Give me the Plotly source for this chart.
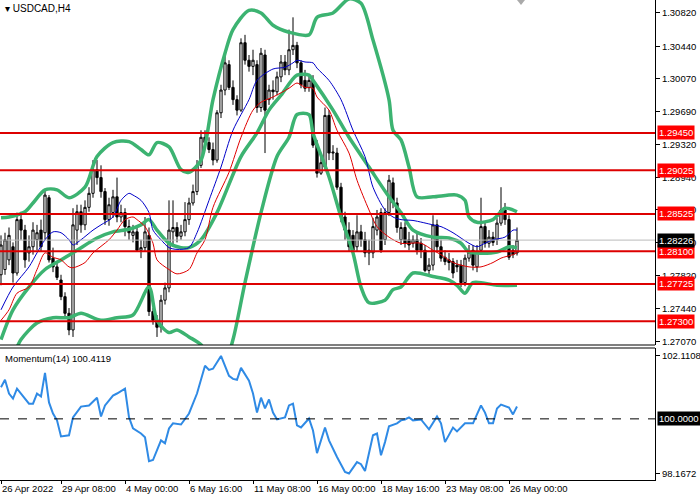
import plotly.graph_objects as go
import pandas as pd

# H4 bar times (26 Apr 20:00 .. 26 May 08:00, weekdays only)
days = pd.bdate_range("2022-04-26", "2022-05-26")
bar_times = [(d + pd.Timedelta(hours=h)).strftime("%Y.%m.%d %H:%M")
             for d in days for h in range(0, 24, 4)][5:135]

open_ = [1.2783, 1.2789, 1.2800, 1.2815, 1.2785, 1.2846, 1.2834, 1.2808, 1.2815, 1.2823,
         1.2834, 1.2831, 1.2871, 1.2802, 1.2792, 1.2777, 1.2758, 1.2739, 1.2720, 1.2834,
         1.2855, 1.2840, 1.2860, 1.2876, 1.2903, 1.2894, 1.2878, 1.2846, 1.2854, 1.2872,
         1.2849, 1.2854, 1.2838, 1.2828, 1.2832, 1.2811, 1.2814, 1.2828, 1.2741, 1.2731,
         1.2723, 1.2754, 1.2768, 1.2832, 1.2837, 1.2827, 1.2832, 1.2846, 1.2865, 1.2878,
         1.2908, 1.2940, 1.2934, 1.2926, 1.2914, 1.2968, 1.2994, 1.3023, 1.2997, 1.2983,
         1.2971, 1.3048, 1.3028, 1.3021, 1.3023, 1.2974, 1.3034, 1.2983, 1.2994, 1.2992,
         1.3009, 1.3026, 1.3017, 1.3040, 1.3045, 1.3025, 1.3005, 1.2997, 1.3005, 1.2931,
         1.2899, 1.2906, 1.2965, 1.2922, 1.2922, 1.2883, 1.2849, 1.2834, 1.2828, 1.2815,
         1.2832, 1.2823, 1.2808, 1.2808, 1.2834, 1.2854, 1.2823, 1.2854, 1.2888, 1.2865,
         1.2823, 1.2837, 1.2823, 1.2819, 1.2823, 1.2819, 1.2811, 1.2788, 1.2794, 1.2840,
         1.2815, 1.2803, 1.2800, 1.2798, 1.2794, 1.2794, 1.2774, 1.2802, 1.2811, 1.2792,
         1.2811, 1.2838, 1.2819, 1.2826, 1.2823, 1.2842, 1.2857, 1.2846, 1.2811, 1.2808]
high = [1.2828, 1.2831, 1.2837, 1.2820, 1.2854, 1.2855, 1.2840, 1.2828, 1.2843, 1.2840,
        1.2846, 1.2880, 1.2874, 1.2814, 1.2798, 1.2783, 1.2763, 1.2745, 1.2859, 1.2863,
        1.2863, 1.2868, 1.2883, 1.2914, 1.2914, 1.2908, 1.2882, 1.2871, 1.2880, 1.2894,
        1.2863, 1.2859, 1.2846, 1.2840, 1.2839, 1.2823, 1.2849, 1.2837, 1.2745, 1.2737,
        1.2760, 1.2774, 1.2868, 1.2868, 1.2843, 1.2840, 1.2866, 1.2871, 1.2886, 1.2914,
        1.2948, 1.2948, 1.2940, 1.2934, 1.2971, 1.3000, 1.3034, 1.3028, 1.3005, 1.2988,
        1.3053, 1.3057, 1.3034, 1.3040, 1.3028, 1.3042, 1.3040, 1.3000, 1.3005, 1.3015,
        1.3034, 1.3034, 1.3063, 1.3077, 1.3049, 1.3028, 1.3017, 1.3011, 1.3011, 1.2937,
        1.2920, 1.2974, 1.2971, 1.2931, 1.2928, 1.2888, 1.2855, 1.2843, 1.2834, 1.2851,
        1.2840, 1.2832, 1.2823, 1.2848, 1.2857, 1.2859, 1.2859, 1.2897, 1.2894, 1.2871,
        1.2843, 1.2843, 1.2832, 1.2828, 1.2831, 1.2825, 1.2817, 1.2802, 1.2851, 1.2846,
        1.2823, 1.2811, 1.2808, 1.2802, 1.2800, 1.2800, 1.2806, 1.2817, 1.2817, 1.2817,
        1.2871, 1.2843, 1.2834, 1.2832, 1.2848, 1.2883, 1.2865, 1.2851, 1.2817, 1.2837]
low = [1.2771, 1.2783, 1.2794, 1.2774, 1.2782, 1.2823, 1.2791, 1.2798, 1.2806, 1.2811,
       1.2809, 1.2823, 1.2797, 1.2786, 1.2777, 1.2754, 1.2734, 1.2714, 1.2712, 1.2817,
       1.2831, 1.2834, 1.2855, 1.2871, 1.2886, 1.2871, 1.2840, 1.2839, 1.2848, 1.2843,
       1.2843, 1.2827, 1.2823, 1.2820, 1.2809, 1.2802, 1.2809, 1.2736, 1.2726, 1.2712,
       1.2717, 1.2749, 1.2763, 1.2817, 1.2820, 1.2823, 1.2827, 1.2840, 1.2862, 1.2874,
       1.2905, 1.2928, 1.2922, 1.2908, 1.2911, 1.2962, 1.2988, 1.2994, 1.2977, 1.2965,
       1.2969, 1.3023, 1.3015, 1.3011, 1.2968, 1.2969, 1.2922, 1.2977, 1.2983, 1.2988,
       1.3003, 1.3011, 1.3011, 1.3034, 1.3019, 1.2996, 1.2992, 1.2992, 1.2928, 1.2894,
       1.2897, 1.2903, 1.2914, 1.2914, 1.2880, 1.2843, 1.2823, 1.2809, 1.2806, 1.2809,
       1.2815, 1.2803, 1.2794, 1.2802, 1.2828, 1.2808, 1.2817, 1.2850, 1.2859, 1.2831,
       1.2817, 1.2814, 1.2811, 1.2814, 1.2806, 1.2802, 1.2786, 1.2783, 1.2788, 1.2809,
       1.2798, 1.2794, 1.2788, 1.2779, 1.2786, 1.2769, 1.2770, 1.2798, 1.2788, 1.2786,
       1.2806, 1.2814, 1.2814, 1.2816, 1.2817, 1.2839, 1.2840, 1.2800, 1.2802, 1.2805]
close = [1.2817, 1.2823, 1.2828, 1.2785, 1.2846, 1.2834, 1.2800, 1.2815, 1.2834, 1.2831,
         1.2815, 1.2874, 1.2800, 1.2792, 1.2780, 1.2758, 1.2739, 1.2720, 1.2840, 1.2855,
         1.2840, 1.2860, 1.2876, 1.2903, 1.2894, 1.2878, 1.2846, 1.2863, 1.2872, 1.2849,
         1.2854, 1.2838, 1.2831, 1.2832, 1.2811, 1.2814, 1.2832, 1.2741, 1.2731, 1.2723,
         1.2754, 1.2768, 1.2834, 1.2837, 1.2827, 1.2832, 1.2846, 1.2865, 1.2878, 1.2908,
         1.2940, 1.2934, 1.2926, 1.2914, 1.2968, 1.2994, 1.3025, 1.2997, 1.2983, 1.2971,
         1.3048, 1.3028, 1.3021, 1.3028, 1.2974, 1.3036, 1.2971, 1.2994, 1.2992, 1.3009,
         1.3026, 1.3017, 1.3040, 1.3045, 1.3025, 1.3000, 1.2996, 1.3005, 1.2931, 1.2899,
         1.2911, 1.2965, 1.2922, 1.2923, 1.2883, 1.2849, 1.2834, 1.2815, 1.2811, 1.2832,
         1.2823, 1.2808, 1.2811, 1.2838, 1.2849, 1.2811, 1.2854, 1.2891, 1.2865, 1.2837,
         1.2837, 1.2819, 1.2817, 1.2823, 1.2811, 1.2811, 1.2788, 1.2794, 1.2840, 1.2815,
         1.2802, 1.2798, 1.2797, 1.2785, 1.2792, 1.2774, 1.2802, 1.2809, 1.2794, 1.2809,
         1.2838, 1.2819, 1.2826, 1.2820, 1.2842, 1.2857, 1.2846, 1.2803, 1.2806, 1.28226]

# Bollinger bands and moving averages (bar index, value)
bb_up_idx = [0, 2, 6, 8, 11, 14, 17, 21, 24, 28, 32, 35, 37, 39, 42, 45, 47, 50, 53, 56, 58, 62,
             65, 68, 72, 77, 79, 83, 87, 90, 93, 97, 98, 100, 102, 104, 108, 114, 116, 117, 119,
             123, 126, 129]
bb_up_val = [1.2848, 1.2849, 1.2855, 1.2865, 1.2880, 1.2880, 1.2871, 1.2883, 1.2918, 1.2934,
             1.2935, 1.2926, 1.2920, 1.2934, 1.2929, 1.2903, 1.2900, 1.2914, 1.2983, 1.3036,
             1.3063, 1.3085, 1.3082, 1.3068, 1.3060, 1.3057, 1.3077, 1.3082, 1.3098, 1.3093,
             1.3051, 1.2983, 1.2948, 1.2937, 1.2906, 1.2872, 1.2872, 1.2874, 1.2868, 1.2849,
             1.2843, 1.2846, 1.2859, 1.2855]
bb_mid_idx = [0, 3, 7, 11, 15, 19, 24, 28, 32, 35, 37, 39, 42, 45, 47, 50, 54, 60, 64, 67, 70,
              74, 77, 78, 83, 87, 92, 97, 100, 103, 108, 112, 115, 117, 124, 127, 129]
bb_mid_val = [1.2709, 1.2743, 1.2769, 1.2789, 1.2800, 1.2811, 1.2825, 1.2832, 1.2835, 1.2840,
              1.2846, 1.2834, 1.2819, 1.2814, 1.2814, 1.2823, 1.2854, 1.2918, 1.2945, 1.2971,
              1.2988, 1.3011, 1.3011, 1.3005, 1.2971, 1.2940, 1.2906, 1.2872, 1.2854, 1.2834,
              1.2826, 1.2825, 1.2819, 1.2809, 1.2809, 1.2815, 1.2814]
bb_low_idx = [0, 3, 5, 9, 13, 17, 20, 25, 29, 33, 37, 39, 42, 44, 47, 50, 53, 56, 58, 61, 65,
              69, 72, 74, 77, 78, 82, 85, 88, 90, 92, 96, 98, 100, 103, 108, 112, 114, 116, 118,
              124, 129]
bb_low_val = [1.2674, 1.2691, 1.2709, 1.2728, 1.2734, 1.2734, 1.2739, 1.2731, 1.2734, 1.2737,
              1.2769, 1.2731, 1.2717, 1.2720, 1.2712, 1.2703, 1.2680, 1.2683, 1.2709, 1.2774,
              1.2854, 1.2918, 1.2940, 1.2966, 1.2966, 1.2945, 1.2895, 1.2849, 1.2808, 1.2769,
              1.2751, 1.2754, 1.2766, 1.2769, 1.2785, 1.2781, 1.2777, 1.2771, 1.2762, 1.2774,
              1.2771, 1.2771]
ma_fast_idx = [0, 3, 7, 9, 11, 13, 15, 17, 18, 20, 23, 25, 28, 30, 32, 33, 35, 37, 38, 40, 42,
               44, 47, 49, 52, 55, 58, 62, 64, 68, 71, 73, 74, 76, 78, 79, 82, 85, 88, 91, 93,
               96, 98, 100, 103, 108, 110, 113, 117, 119, 121, 123, 126, 128, 129]
ma_fast_val = [1.2743, 1.2769, 1.2792, 1.2808, 1.2823, 1.2832, 1.2831, 1.2823, 1.2817, 1.2823,
               1.2834, 1.2840, 1.2849, 1.2868, 1.2876, 1.2874, 1.2868, 1.2854, 1.2834, 1.2823,
               1.2814, 1.2812, 1.2814, 1.2831, 1.2868, 1.2906, 1.2948, 1.2983, 1.3005, 1.3018,
               1.3020, 1.3025, 1.3028, 1.3026, 1.3025, 1.3019, 1.3005, 1.2983, 1.2948, 1.2918,
               1.2883, 1.2857, 1.2849, 1.2846, 1.2845, 1.2840, 1.2838, 1.2831, 1.2819, 1.2815,
               1.2819, 1.2823, 1.2826, 1.2834, 1.2834]
ma_slow_idx = [0, 2, 4, 7, 9, 11, 13, 15, 17, 18, 21, 23, 27, 29, 31, 33, 34, 36, 38, 39, 42,
               44, 47, 49, 51, 53, 57, 60, 63, 65, 68, 72, 74, 76, 78, 79, 82, 84, 87, 89, 92,
               94, 97, 100, 105, 108, 110, 113, 117, 120, 123, 125, 128, 129]
ma_slow_val = [1.2731, 1.2743, 1.2762, 1.2769, 1.2789, 1.2808, 1.2803, 1.2800, 1.2792, 1.2791,
               1.2797, 1.2808, 1.2823, 1.2834, 1.2846, 1.2849, 1.2846, 1.2838, 1.2819, 1.2800,
               1.2789, 1.2784, 1.2789, 1.2808, 1.2823, 1.2860, 1.2900, 1.2940, 1.2971, 1.2980,
               1.2986, 1.2996, 1.3002, 1.2997, 1.2996, 1.2986, 1.2971, 1.2948, 1.2922, 1.2891,
               1.2857, 1.2838, 1.2826, 1.2819, 1.2819, 1.2811, 1.2806, 1.2797, 1.2792, 1.2792,
               1.2797, 1.2802, 1.2806, 1.2808]

# Momentum(14)
mom_idx = [0, 1, 2, 3, 4, 5, 7, 8, 9, 10, 11, 12, 13, 14, 15, 17, 18, 20, 22, 24, 25, 26, 28,
           29, 31, 32, 33, 35, 36, 37, 38, 40, 41, 42, 43, 45, 47, 49, 51, 52, 53, 55, 56, 57,
           58, 59, 60, 62, 63, 64, 65, 66, 67, 68, 69, 71, 72, 73, 74, 75, 77, 78, 79, 80, 81,
           82, 84, 86, 87, 89, 90, 91, 93, 94, 95, 96, 97, 99, 100, 101, 102, 103, 105, 107,
           109, 110, 111, 113, 114, 116, 118, 120, 121, 122, 123, 124, 125, 127, 128, 129]
mom_val = [101.06, 101.31, 100.85, 100.68, 101.01, 100.85, 100.51, 100.51, 100.85, 100.75,
           101.54, 100.55, 100.18, 99.95, 99.41, 99.45, 100.05, 100.41, 100.45, 100.71, 100.08,
           100.45, 100.78, 100.85, 101.01, 100.05, 99.68, 99.51, 99.38, 98.58, 98.62, 99.28,
           99.18, 99.68, 99.85, 99.81, 100.18, 100.85, 101.78, 101.64, 101.68, 102.1108, 101.78,
           101.44, 101.34, 101.31, 101.71, 101.28, 100.85, 100.21, 100.71, 100.35, 100.65,
           100.21, 99.98, 100.05, 100.45, 100.51, 99.78, 99.71, 100.01, 99.61, 98.85, 99.28,
           99.71, 99.28, 98.72, 98.22, 98.1672, 98.55, 98.48, 98.25, 99.45, 99.51, 98.78, 99.22,
           99.75, 99.85, 99.95, 99.98, 100.05, 99.95, 99.98, 99.65, 100.08, 99.85, 99.22, 99.71,
           99.58, 99.85, 99.85, 100.45, 100.21, 99.85, 99.85, 100.35, 100.48, 100.38, 100.15,
           100.4119]

levels = [1.29450, 1.29025, 1.28525, 1.28100, 1.27725, 1.27300]
bid = 1.28226
price_ticks = [1.30820, 1.30440, 1.30070, 1.29690, 1.29320, 1.28940, 1.28570, 1.28200,
               1.27820, 1.27440, 1.27070]
mom_ticks = [102.1108, 98.1672]
tick_idx = [0, 15, 31, 47, 63, 79, 95, 111, 127]
tick_text = ["26 Apr 2022", "29 Apr 08:00", "4 May 00:00", "6 May 16:00", "11 May 08:00",
             "16 May 00:00", "18 May 16:00", "23 May 08:00", "26 May 00:00"]

FONT = "Liberation Sans"
XR = 655 / 700
GREEN = "#3CB371"


def at(idx):
    return [bar_times[i] for i in idx]


fig = go.Figure()
fig.add_trace(go.Candlestick(
    x=bar_times, open=open_, high=high, low=low, close=close,
    increasing=dict(line=dict(color="black", width=1), fillcolor="white"),
    decreasing=dict(line=dict(color="black", width=1), fillcolor="black"),
    whiskerwidth=0, xaxis="x", yaxis="y", hoverinfo="skip"))
for idx, val in [(bb_up_idx, bb_up_val), (bb_mid_idx, bb_mid_val), (bb_low_idx, bb_low_val)]:
    fig.add_trace(go.Scatter(x=at(idx), y=val, mode="lines", xaxis="x", yaxis="y",
                             line=dict(color=GREEN, width=3.5, shape="spline", smoothing=0.8)))
fig.add_trace(go.Scatter(x=at(ma_fast_idx), y=ma_fast_val, mode="lines", xaxis="x", yaxis="y",
                         line=dict(color="#0000C8", width=1, shape="spline", smoothing=0.8)))
fig.add_trace(go.Scatter(x=at(ma_slow_idx), y=ma_slow_val, mode="lines", xaxis="x", yaxis="y",
                         line=dict(color="#E00000", width=1, shape="spline", smoothing=0.8)))
fig.add_trace(go.Scatter(x=at(mom_idx), y=mom_val, mode="lines", xaxis="x2", yaxis="y2",
                         line=dict(color="#2F8AE5", width=2)))

shapes = []
shapes.append(dict(type="line", xref="paper", x0=0, x1=XR, yref="y", y0=bid, y1=bid,
                   line=dict(color="#BBBBBB", width=1)))
for lv in levels:
    shapes.append(dict(type="line", xref="paper", x0=0, x1=XR, yref="y", y0=lv, y1=lv,
                       line=dict(color="#DD0000", width=2)))
shapes.append(dict(type="line", xref="paper", x0=0, x1=XR, yref="y2", y0=100, y1=100,
                   line=dict(color="black", width=1, dash="dash")))
for yp in [1 - 345 / 500, 1 - 348 / 500]:
    shapes.append(dict(type="line", xref="paper", x0=0, x1=XR, yref="paper", y0=yp, y1=yp,
                       line=dict(color="black", width=1)))
# chart-shift marker at the top edge
shapes.append(dict(type="path", xref="paper", yref="paper",
                   path="M %.4f 1 L %.4f 1 L %.4f %.4f Z" % (517 / 700, 525 / 700, 521 / 700,
                                                             1 - 5 / 500),
                   fillcolor="#AAAAAA", line=dict(width=0)))

ann = []
for lv in levels:
    ann.append(dict(xref="paper", x=657 / 700, xanchor="left", yref="y", y=lv, text="%.5f" % lv,
                    showarrow=False, bgcolor="#FF0000", borderpad=1,
                    font=dict(family=FONT, size=9.5, color="white")))
ann.append(dict(xref="paper", x=657 / 700, xanchor="left", yref="y", y=bid, text="%.5f" % bid,
                showarrow=False, bgcolor="black", borderpad=1,
                font=dict(family=FONT, size=9.5, color="white")))
ann.append(dict(xref="paper", x=657 / 700, xanchor="left", yref="y2", y=100, text="100.0000",
                showarrow=False, bgcolor="black", borderpad=1,
                font=dict(family=FONT, size=9.5, color="white")))
ann.append(dict(xref="paper", x=0.004, xanchor="left", yref="paper", y=1 - 8 / 500,
                yanchor="middle", text="▾ USDCAD,H4", showarrow=False,
                font=dict(family=FONT, size=10, color="black")))
ann.append(dict(xref="paper", x=0.004, xanchor="left", yref="paper", y=1 - 358 / 500,
                yanchor="middle", text="Momentum(14) %.4f" % mom_val[-1], showarrow=False,
                font=dict(family=FONT, size=9.5, color="black")))

xcommon = dict(type="category", categoryorder="array", categoryarray=bar_times,
               range=[-0.25, 163.5], domain=[0, XR], showgrid=False, zeroline=False,
               fixedrange=True)
fig.update_layout(
    width=700, height=500, margin=dict(l=0, r=0, t=0, b=0),
    paper_bgcolor="white", plot_bgcolor="white", showlegend=False, boxgap=0.2,
    font=dict(family=FONT, size=9.5, color="black"),
    xaxis=dict(anchor="y", showticklabels=False, rangeslider=dict(visible=False), **xcommon),
    yaxis=dict(domain=[1 - 345 / 500, 1], range=[1.27028, 1.30968], side="right", anchor="x",
               tickvals=price_ticks, ticktext=["%.5f" % t for t in price_ticks],
               ticks="outside", ticklen=4, tickcolor="black", showline=True, linecolor="black",
               linewidth=1, showgrid=False, zeroline=False, automargin=False),
    xaxis2=dict(anchor="y2", tickvals=at(tick_idx), ticktext=tick_text, ticks="outside",
                ticklen=3, tickcolor="black", ticklabelposition="outside right", tickangle=0,
                showline=True, linecolor="black", linewidth=1, automargin=False, **xcommon),
    yaxis2=dict(domain=[1 - 480 / 500, 1 - 348 / 500], range=[97.950, 102.376], side="right",
                anchor="x2", tickvals=mom_ticks, ticktext=["%.4f" % t for t in mom_ticks],
                ticks="outside", ticklen=4, tickcolor="black", showline=True, linecolor="black",
                linewidth=1, showgrid=False, zeroline=False, automargin=False),
    shapes=shapes, annotations=ann,
)

# drop the default page margin so the 700x500 figure fills the window
fig.write_html("out.html", config={"displayModeBar": False},
               post_script="document.body.style.margin='0';")
